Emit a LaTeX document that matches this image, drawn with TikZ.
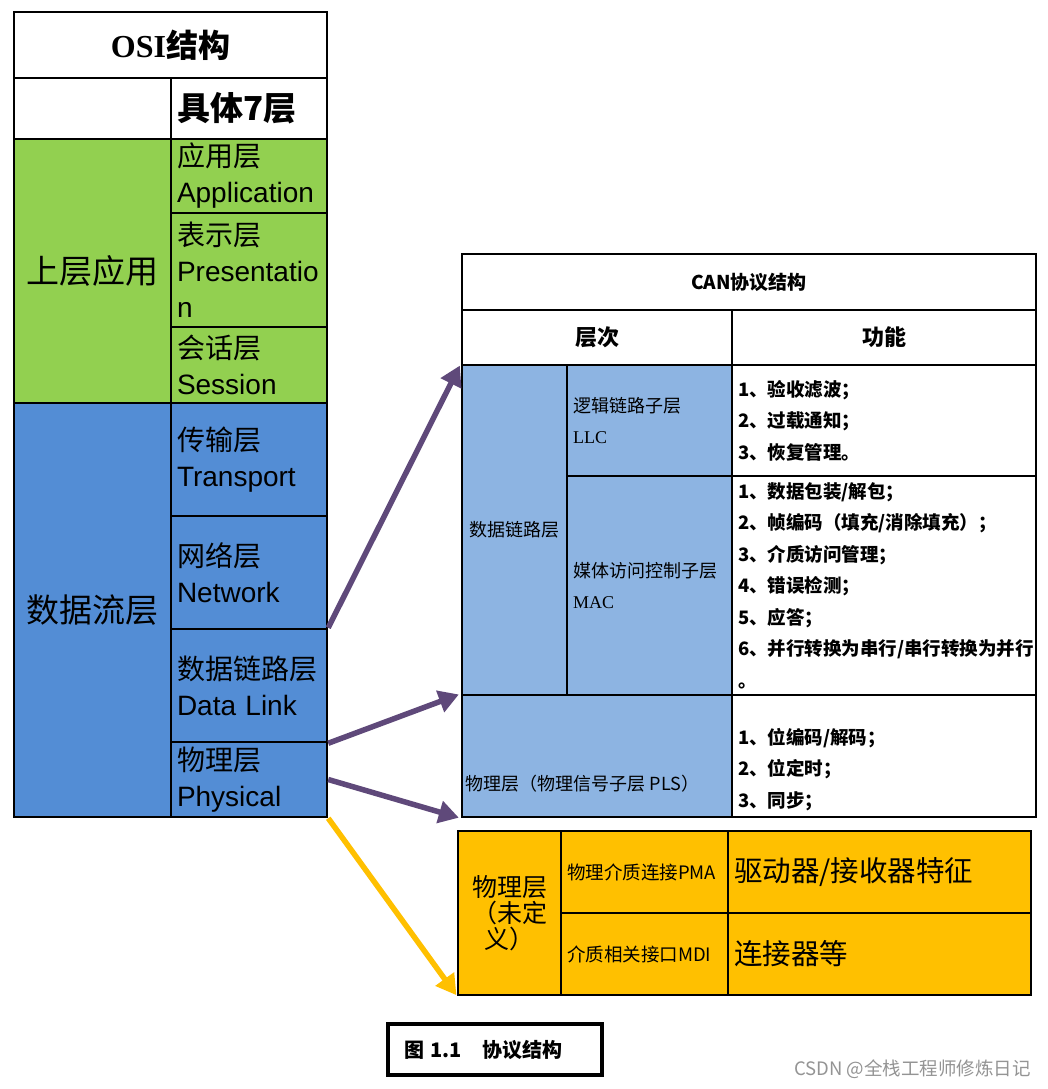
\documentclass[tikz,border=0pt]{standalone}
\usepackage{fontspec}
\setmainfont{Liberation Sans}
\newfontfamily\cjk{Noto Sans CJK SC}
\newfontfamily\lserif{Liberation Serif}
\usetikzlibrary{arrows.meta}
\definecolor{osigreen}{HTML}{92D050}
\definecolor{osiblue}{HTML}{538DD5}
\definecolor{canblue}{HTML}{8DB4E2}
\definecolor{orng}{HTML}{FFC000}
\definecolor{purp}{HTML}{5F497A}
\newcommand\mycell[7]{%
  \pgfmathsetmacro\mycw{#4-#2}%
  \pgfmathsetmacro\mych{#5-#3}%
  \pgfmathsetmacro\mytw{#4-#2-12}%
  \node[cellbase,minimum width=\mycw pt,minimum height=\mych pt,text width=\mytw pt,#6] (#1) at ({(#2+#4)/2},{(#3+#5)/2}) {#7};}
\tikzset{
  cellbase/.style={draw=black,line width=2.5pt,inner xsep=6pt,inner ysep=0pt,align=left,fill=white},
  lay/.style={font=\fontsize{28}{36}\selectfont},
  subf/.style={font=\cjk\fontsize{18}{31}\selectfont},
  func/.style={font=\cjk\bfseries\fontsize{18.5}{31.5}\selectfont},
  hdr/.style={font=\cjk\bfseries\fontsize{22}{26}\selectfont},
  orcell/.style={fill=orng,line width=2pt},
  purparrow/.style={draw=purp,line width=5.5pt,-{Triangle[length=20pt,width=22pt]},shorten >=2pt},
  yelarrow/.style={draw=orng,line width=5.5pt,-{Triangle[length=20pt,width=22pt]},shorten >=1pt},
}
\begin{document}
\begin{tikzpicture}[x=1pt,y=-1pt]
\fill[white] (0,0) rectangle (1048,1089);
\useasboundingbox (0,0) rectangle (1048,1089);
% OSI table
\mycell{osi}{14}{12}{327}{78}{align=center,font=\fontsize{32}{36}\selectfont}{{\lserif\bfseries OSI}{\cjk\bfseries 结构}}
\mycell{blank}{14}{78}{171}{139}{}{}
\mycell{seven}{171}{78}{327}{139}{font=\cjk\bfseries\fontsize{33}{36}\selectfont}{具体7层}
\mycell{upper}{14}{139}{171}{403}{fill=osigreen,align=center,font=\cjk\fontsize{33}{40}\selectfont}{上层应用}
\mycell{app}{171}{139}{327}{213}{fill=osigreen,lay}{{\cjk 应用层}\\Application}
\mycell{pres}{171}{213}{327}{327}{fill=osigreen,lay}{{\cjk 表示层}\\Presentatio\\n}
\mycell{sess}{171}{327}{327}{403}{fill=osigreen,lay}{{\cjk 会话层}\\Session}
\mycell{flow}{14}{403}{171}{817}{fill=osiblue,align=center,font=\cjk\fontsize{33}{40}\selectfont}{数据流层}
\mycell{trans}{171}{403}{327}{516}{fill=osiblue,lay}{{\cjk 传输层}\\Transport}
\mycell{net}{171}{516}{327}{629}{fill=osiblue,lay}{{\cjk 网络层}\\Network}
\mycell{dl}{171}{629}{327}{742}{fill=osiblue,lay}{{\cjk 数据链路层}\\Data Link}
\mycell{phys}{171}{742}{327}{817}{fill=osiblue,lay}{{\cjk 物理层}\\Physical}
% CAN table
\mycell{cantitle}{462}{254}{1036}{310}{align=center,font=\cjk\bfseries\fontsize{19}{24}\selectfont}{CAN协议结构}
\mycell{hdrA}{462}{310}{732}{365}{align=center,hdr}{层次}
\mycell{hdrB}{732}{310}{1036}{365}{align=center,hdr}{功能}
\mycell{dll}{462}{365}{567}{695}{fill=canblue,align=center,subf}{数据链路层}
\mycell{llc}{567}{365}{732}{476}{fill=canblue,subf}{逻辑链路子层\\{\lserif LLC}}
\mycell{llcf}{732}{365}{1036}{476}{func}{1、验收滤波；\\2、过载通知；\\3、恢复管理。}
\mycell{mac}{567}{476}{732}{695}{fill=canblue,subf}{媒体访问控制子层\\{\lserif MAC}}
\mycell{macf}{732}{476}{1036}{695}{func}{1、数据包装/解包；\\2、帧编码（填充/消除填充）；\\3、介质访问管理；\\4、错误检测；\\5、应答；\\6、并行转换为串行/串行转换为并行\\。}
\mycell{pls}{462}{695}{732}{817}{fill=canblue}{}
\node[anchor=west,subf,inner sep=0pt] (plst) at ([xshift=5pt,yshift=35pt]pls.south west) {物理层（物理信号子层 PLS）};
\mycell{plsf}{732}{695}{1036}{817}{}{}
\node[func,align=left,text width=292pt,inner xsep=6pt,inner ysep=0pt] (plsft) at ([yshift=-13.5pt]plsf.center) {1、位编码/解码；\\2、位定时；\\3、同步；};
% orange table
\mycell{phy}{458}{831}{561}{995}{orcell,align=center,font=\cjk\fontsize{25}{26}\selectfont}{物理层\\（未定\\义）}
\mycell{pma}{561}{831}{728}{913}{orcell,font=\cjk\fontsize{18.5}{20}\selectfont}{物理介质连接PMA}
\mycell{drv}{728}{831}{1031}{913}{orcell,font=\cjk\fontsize{28.5}{30}\selectfont}{驱动器/接收器特征}
\mycell{mdi}{561}{913}{728}{995}{orcell,font=\cjk\fontsize{18.5}{20}\selectfont}{介质相关接口MDI}
\mycell{conn}{728}{913}{1031}{995}{orcell,font=\cjk\fontsize{28.5}{30}\selectfont}{连接器等}
% caption
\node[draw=black,line width=4pt,minimum width=214pt,minimum height=51pt,text width=182pt,inner xsep=16pt,inner ysep=0pt,align=left,font=\cjk\bfseries\fontsize{20}{24}\selectfont] (cap) at (495,1049.5) {图 1.1\quad 协议结构};
\node[anchor=east,text=black!42,font=\cjk\fontsize{18.5}{22}\selectfont,inner sep=0pt] (wm) at (1031,1069) {CSDN @全栈工程师修炼日记};
% arrows
\draw[purparrow] (dl.north east) -- (dll.north west);
\draw[purparrow] (dl.south east) -- (pls.north west);
\draw[purparrow] (phys.east) -- (pls.south west);
\draw[yelarrow] (phys.south east) -- (phy.south west);
\end{tikzpicture}
\end{document}
